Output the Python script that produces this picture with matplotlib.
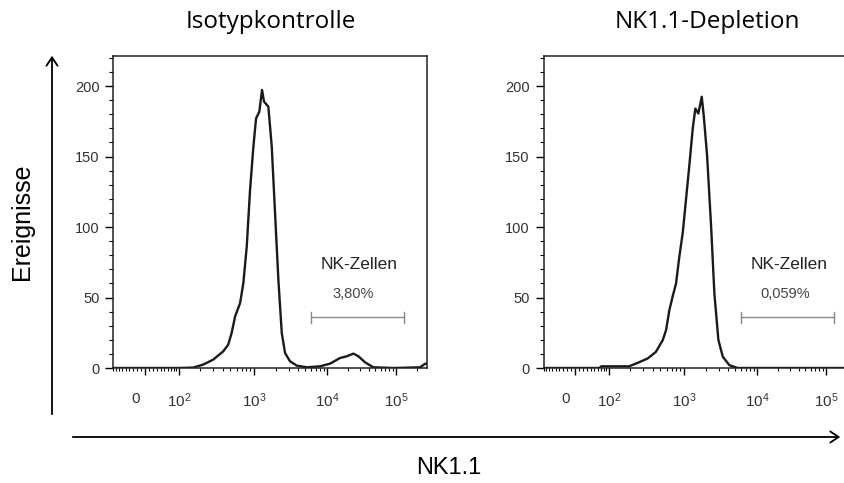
import numpy as np
import matplotlib
matplotlib.use("Agg")
import matplotlib.pyplot as plt
from matplotlib.patches import FancyArrowPatch
from matplotlib.ticker import FixedLocator, NullFormatter

plt.rcParams['font.family'] = ['Liberation Sans', 'DejaVu Sans']
plt.rcParams['mathtext.fontset'] = 'custom'
plt.rcParams['mathtext.rm'] = 'Liberation Sans'

# --- data ---
titles = ['Isotypkontrolle', 'NK1.1-Depletion']
gate_labels = ['3,80%', '0,059%']
gate_name = 'NK-Zellen'
gate_range = [6000, 132000]
gate_y = 36

iso_x = [-90, 100, 162, 222, 301, 406, 470, 520, 576, 666, 733, 809, 891, 982,
         1067, 1183, 1288, 1372, 1572, 1750, 1942, 2156, 2400, 2663, 3117, 3850,
         5280, 8030, 11060, 15440, 19300, 24050, 28480, 35540, 46880, 91400,
         222700, 263000, 280000]
iso_y = [0, 0, 0.3, 2.4, 5.9, 11.8, 16.5, 24.8, 36.6, 46, 60.2, 86.2, 126.3, 157,
         177, 181.8, 197.2, 188.9, 185.4, 157, 109.8, 62.6, 24.8, 10.6, 4.7, 1.7,
         0.5, 1.2, 3.1, 7.1, 8.3, 10.2, 8.3, 4, 0.5, 0,
         0.5, 3, 3]

dep_x = [-90, 66, 72, 196, 254, 343, 439, 538, 593, 652, 720, 793, 873, 964,
         1067, 1183, 1318, 1430, 1572, 1750, 1863, 2069, 2347, 2605, 2955, 3394,
         4180, 5440, 280000]
dep_y = [0, 0, 1.2, 1.2, 3.6, 6.7, 11.4, 19.8, 27, 41, 51, 60, 79, 96,
         120, 143.6, 170, 184, 180.5, 192.4, 179, 151, 101, 53, 20, 8,
         2, 0, 0]

x_major = [0, 1e2, 1e3, 1e4, 1e5]
# trailing spaces push the "0" a little to the left, as in the FlowJo export
x_major_labels = ['0    ', r'$\mathregular{10^2}$', r'$\mathregular{10^3}$',
                  r'$\mathregular{10^4}$', r'$\mathregular{10^5}$']

# --- biexponential-like axis (FlowJo style) ---
C = 78.0
ANCHOR_X = np.array([-1e6, -1e5, -1e4, -1e3, -100, 0, 100, 1e3, 1e4, 1e5, 1e6])
ANCHOR_P = np.array([-320, -251, -182, -109, -34, 0, 34, 109, 182, 251, 320], float)


def _g(x):
    return np.arcsinh(np.asarray(x, float) / C) / np.log(10)


ANCHOR_G = _g(ANCHOR_X)


def fwd(x):
    return np.interp(_g(x), ANCHOR_G, ANCHOR_P)


def inv(p):
    return C * np.sinh(np.interp(np.asarray(p, float), ANCHOR_P, ANCHOR_G) * np.log(10))


x_minor = [s * k for s in (-1, 1) for k in range(10, 100, 10)]
for e in (2, 3, 4, 5):
    x_minor += [k * 10 ** e for k in range(2, 10)]
x_minor += [100]

fig = plt.figure(figsize=(8.45, 4.83), dpi=100)
W, H = 845, 483


def px_axes(x0, top, w, h):
    return fig.add_axes([x0 / W, (H - top - h) / H, w / W, h / H])


axes = [px_axes(113.5, 55.7, 313.5, 312.3), px_axes(543.5, 55.7, 313.5, 312.3)]
data = [(iso_x, iso_y), (dep_x, dep_y)]

for i, ax in enumerate(axes):
    xs, ys = data[i]
    ax.set_xscale('function', functions=(fwd, inv))
    ax.plot(xs, ys, color='#1a1a1a', lw=1.7, solid_joinstyle='round')
    ax.set_xlim(-90, 280000)
    ax.set_ylim(0, 221.5)

    ax.xaxis.set_major_locator(FixedLocator(x_major))
    ax.set_xticklabels(x_major_labels)
    ax.xaxis.set_minor_locator(FixedLocator(x_minor))
    ax.xaxis.set_minor_formatter(NullFormatter())
    ax.yaxis.set_major_locator(FixedLocator([0, 50, 100, 150, 200]))
    ax.yaxis.set_minor_locator(FixedLocator(list(range(10, 230, 10))))

    ax.tick_params(axis='x', which='major', length=5, width=1, pad=12,
                   labelsize=11, labelcolor='#333333')
    ax.tick_params(axis='x', which='minor', length=2.5, width=0.8)
    ax.tick_params(axis='y', which='major', length=6, width=1, pad=4,
                   labelsize=10.5, labelcolor='#333333')
    ax.tick_params(axis='y', which='minor', length=3, width=0.8)
    for sp in ax.spines.values():
        sp.set_linewidth(1.1)
        sp.set_color('#222222')

    # gate
    ax.plot(gate_range, [gate_y, gate_y], color='#8a8a8a', lw=1)
    for gx in gate_range:
        ax.plot([gx, gx], [gate_y - 4, gate_y + 4], color='#8a8a8a', lw=1)

    ax.text(0.785, 0.33, gate_name, transform=ax.transAxes, ha='center',
            va='center', fontsize=12.5, color='#222222')
    ax.text(0.765 if i == 0 else 0.77, 0.237, gate_labels[i], transform=ax.transAxes,
            ha='center', va='center', fontsize=10.5, color='#444444')

# titles
fig.text(271 / W, 1 - 22 / H, titles[0], ha='center', va='center',
         fontsize=17.5, family=['Open Sans', 'DejaVu Sans'])
fig.text(707 / W, 1 - 22 / H, titles[1], ha='center', va='center',
         fontsize=17.5, family=['Open Sans', 'DejaVu Sans'])

# big axis arrows
fig.add_artist(FancyArrowPatch(
    (52 / W, 1 - 417 / H), (52 / W, 1 - 53 / H), transform=fig.transFigure,
    arrowstyle='->,head_length=6,head_width=4', lw=1.3, color='black'))
fig.add_artist(FancyArrowPatch(
    (70 / W, 1 - 437 / H), (843 / W, 1 - 437 / H), transform=fig.transFigure,
    arrowstyle='->,head_length=6,head_width=4', lw=1.3, color='black'))

fig.text(22 / W, 1 - 222 / H, 'Ereignisse', rotation=90, ha='center',
         va='center', fontsize=18)
fig.text(449 / W, 1 - 468 / H, 'NK1.1', ha='center', va='center', fontsize=17)

fig.savefig('out.png', dpi=100)
